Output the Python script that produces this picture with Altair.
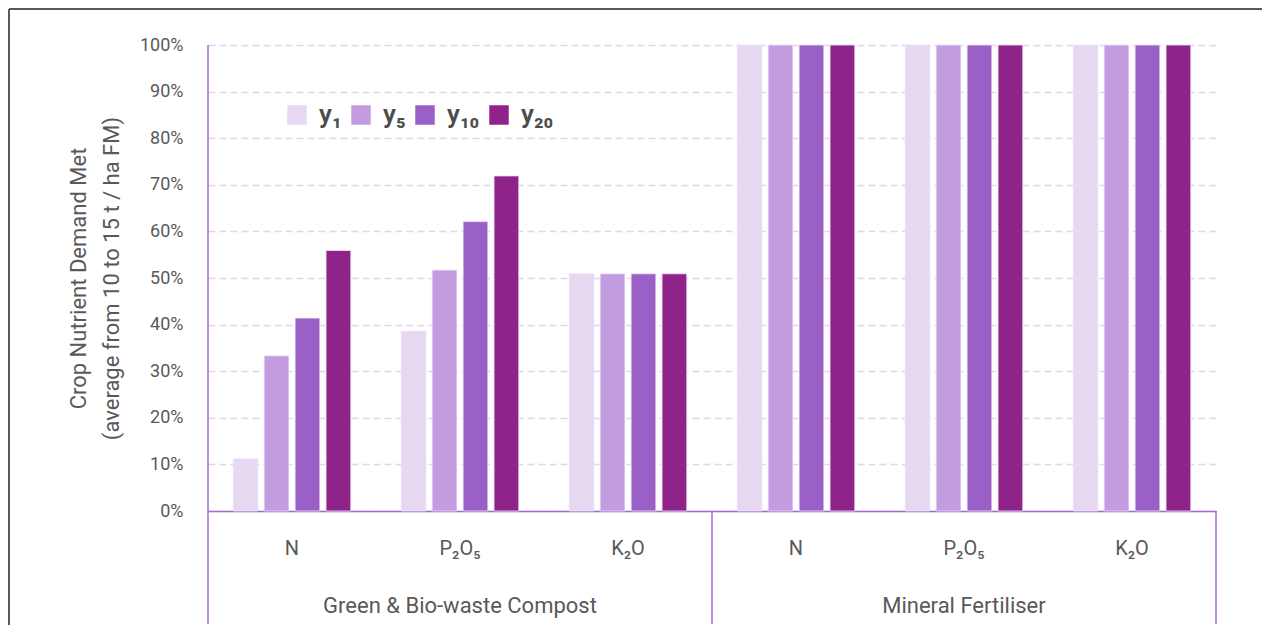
import altair as alt
import pandas as pd

groups = ["Green & Bio-waste Compost", "Green & Bio-waste Compost", "Green & Bio-waste Compost",
          "Mineral Fertiliser", "Mineral Fertiliser", "Mineral Fertiliser"]
nutrients = ["N", "P₂O₅", "K₂O", "N", "P₂O₅", "K₂O"]
years = ["y₁", "y₅", "y₁₀", "y₂₀"]
vals_y1 = [0.112, 0.386, 0.509, 1.0, 1.0, 1.0]
vals_y5 = [0.333, 0.517, 0.509, 1.0, 1.0, 1.0]
vals_y10 = [0.414, 0.621, 0.509, 1.0, 1.0, 1.0]
vals_y20 = [0.559, 0.719, 0.509, 1.0, 1.0, 1.0]
colors = ["#e5d8f0", "#c39ce0", "#9b60c6", "#8f2389"]
y_ticks = [0, 0.1, 0.2, 0.3, 0.4, 0.5, 0.6, 0.7, 0.8, 0.9, 1.0]

cats = [("G" if g.startswith("Green") else "M") + "|" + n for g, n in zip(groups, nutrients)]
series = [vals_y1, vals_y5, vals_y10, vals_y20]
rows = []
for yr, vals in zip(years, series):
    for c, v in zip(cats, vals):
        rows.append({"cat": c, "year": yr, "value": v})
df = pd.DataFrame(rows)

group_names = ["Green & Bio-waste Compost", "Mineral Fertiliser"]
glab = pd.DataFrame({"cat": ["G|P₂O₅", "M|P₂O₅"], "label": group_names})

PURPLE = "#a46ad6"
TEXT = "#595959"

xscale = alt.Scale(domain=cats, paddingInner=0.3, paddingOuter=0.15)

bars = alt.Chart(df).mark_bar(stroke="#efe6f7", strokeWidth=0.8).encode(
    x=alt.X("cat:N", sort=cats, scale=xscale, title=None,
            axis=alt.Axis(labelExpr="split(datum.value, '|')[1]", labelAngle=0,
                          ticks=False, domain=True, domainColor=PURPLE, domainWidth=1.5,
                          labelPadding=27, labelFontSize=20, labelColor=TEXT, grid=False)),
    xOffset=alt.XOffset("year:N", sort=years, scale=alt.Scale(paddingInner=0.2)),
    y=alt.Y("value:Q", scale=alt.Scale(domain=[0, 1]),
            axis=alt.Axis(format="%", values=y_ticks, grid=True, gridDash=[7, 4],
                          gridColor="#e3d3f3", gridWidth=1.5, domain=False, ticks=False,
                          labelPadding=25, labelFontSize=18, labelColor=TEXT,
                          title=["Crop Nutrient Demand Met", "(average from 10 to 15 t / ha FM)"],
                          titleFontSize=22, titleColor=TEXT, titleFontWeight="normal",
                          titlePadding=16, titleLineHeight=33)),
    color=alt.Color("year:N", sort=years, scale=alt.Scale(domain=years, range=colors),
                    legend=alt.Legend(orient="none", legendX=76, legendY=57, direction="horizontal",
                                      title=None, symbolType="square", symbolSize=380,
                                      symbolStrokeWidth=0, labelFontSize=26, labelFontWeight=600,
                                      labelColor="#4d4d4d", columnPadding=6, labelOffset=9,
                                      padding=0)),
)

group_text = alt.Chart(glab).mark_text(fontSize=22, color=TEXT, baseline="middle").encode(
    x=alt.X("cat:N", sort=cats, scale=xscale),
    y=alt.value(561),
    text="label:N",
)

sep_df = pd.DataFrame({"pos": ["left", "mid", "right"]})
vline_left = alt.Chart(sep_df.iloc[[0]]).mark_rule(color=PURPLE, strokeWidth=1.5).encode(
    x=alt.value(0), y=alt.value(0), y2=alt.value(579))
vline_mid = alt.Chart(sep_df.iloc[[1]]).mark_rule(color=PURPLE, strokeWidth=1.5).encode(
    x=alt.value(504), y=alt.value(466), y2=alt.value(579))
vline_right = alt.Chart(sep_df.iloc[[2]]).mark_rule(color=PURPLE, strokeWidth=1.5).encode(
    x=alt.value(1008), y=alt.value(466), y2=alt.value(579))

frame_df = pd.DataFrame({"f": [1]})
frame_left = alt.Chart(frame_df).mark_rule(color="#595959", strokeWidth=2).encode(
    x=alt.value(-199), y=alt.value(-36), y2=alt.value(580))
frame_top = alt.Chart(frame_df).mark_rule(color="#595959", strokeWidth=2).encode(
    x=alt.value(-199), x2=alt.value(1054), y=alt.value(-36))

chart = alt.layer(bars, group_text, vline_left, vline_mid, vline_right, frame_left, frame_top).properties(
    width=1008, height=466, padding=0
).configure(font="Roboto").configure_view(stroke=None)

chart.save("out.html", embed_options={"renderer": "svg", "actions": False})
